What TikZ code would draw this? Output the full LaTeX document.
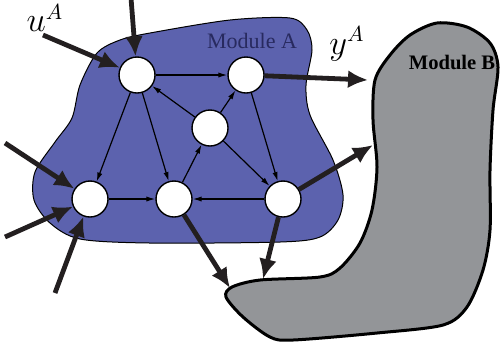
\documentclass[tikz,border=0pt]{standalone}
\usepackage{amsmath,amssymb}
\usepackage{fontspec}
\setmainfont{Liberation Serif}
\usepackage{tikz}
\usetikzlibrary{arrows.meta}
\tikzset{>={Latex[width=2.6pt,length=4.5pt]}}
\definecolor{modA}{RGB}{92,98,174}
\definecolor{modAtext}{RGB}{40,42,95}
\definecolor{modB}{RGB}{147,149,152}
\definecolor{ink}{RGB}{35,31,32}

\begin{document}
\begin{tikzpicture}[x=0.5pt, y=-0.5pt,
  state/.style={circle, draw, fill=white, line width=0.7pt, minimum size=18pt, inner sep=0pt},
  link/.style={->, line width=0.6pt},
  flow/.style={-{Latex[width=9pt,length=10pt]}, line width=2.4pt, ink},
  title/.style={font=\fontsize{10.3}{12}\selectfont\bfseries}]

  \useasboundingbox (0,0) rectangle (501,350);

  %% module A
  \draw[fill=modA, line width=0.5pt] plot[smooth cycle] coordinates {
    (150,33) (230,20) (290,18) (307,30) (312,50) (306,85) (310,115) (333,160)
    (343,195) (338,220) (320,237) (280,242) (150,243) (80,239) (50,223)
    (34,200) (35,172) (55,142) (72,118) (80,85) (97,53) (120,40)};
  %% module B
  \draw[fill=modB, line width=1.5pt] plot[smooth cycle] coordinates {
    (375,80) (390,55) (410,35) (437,23) (467,27) (490,43) (498,67) (493,110)
    (490,170) (490,230) (483,270) (467,307) (443,325) (377,333) (293,340)
    (270,337) (243,317) (226,297) (232,287) (260,280) (320,277) (340,268)
    (360,243) (372,210) (377,167) (373,120)};

  \node[font=\fontsize{11}{12}\selectfont, modAtext] (titleA) at (252,41) {Module A};
  \node[title] (titleB) at (452,62) {Module B};

  \node[state] (a1) at (137,75) {};
  \node[state] (a2) at (246,75) {};
  \node[state] (a3) at (210,128) {};
  \node[state] (a4) at (90,199) {};
  \node[state] (a5) at (174,199) {};
  \node[state] (a6) at (283,199) {};

  \draw[link] (a1) -- (a2);
  \draw[link] (a3) -- (a1);
  \draw[link] (a3) -- (a2);
  \draw[link] (a1) -- (a4);
  \draw[link] (a1) -- (a5);
  \draw[link] (a5) -- (a3);
  \draw[link] (a3) -- (a6);
  \draw[link] (a2) -- (a6);
  \draw[link] (a4) -- (a5);
  \draw[link] (a6) -- (a5);

  %% inputs
  \node[font=\fontsize{16}{18}\selectfont] (uA) at (45,18) {$u^A$};
  \coordinate (inTop) at (131,-2);
  \coordinate (inU) at (43,35);
  \coordinate (inL1) at (5,143);
  \coordinate (inL2) at (5,237);
  \coordinate (inL3) at (55,293);
  \draw[flow] (inTop) -- (a1);
  \draw[flow] (inU) -- (a1);
  \draw[flow] (inL1) -- (a4);
  \draw[flow] (inL2) -- (a4);
  \draw[flow] (inL3) -- (a4);

  %% outputs
  \node[font=\fontsize{16}{18}\selectfont] (yA) at (347,44) {$y^A$};
  \coordinate (outY) at (368,80);
  \coordinate (outR) at (373,145);
  \coordinate (outB1) at (230,288);
  \coordinate (outB2) at (263,279);
  \draw[flow] (a2) -- (outY);
  \draw[flow] (a6) -- (outR);
  \draw[flow] (a5) -- (outB1);
  \draw[flow] (a6) -- (outB2);

\end{tikzpicture}
\end{document}
